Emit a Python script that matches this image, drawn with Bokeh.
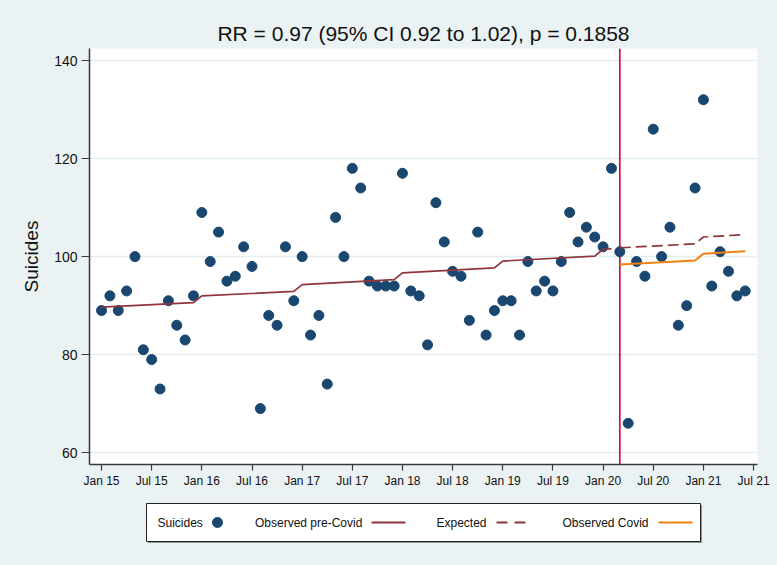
import numpy as np
from bokeh.plotting import figure
from bokeh.models import Range1d, FixedTicker, Span
from bokeh.layouts import column
from bokeh.embed import file_html
from bokeh.resources import INLINE
from bokeh.core.properties import value

# ---------------- data ----------------
title_text = "RR = 0.97 (95% CI 0.92 to 1.02), p = 0.1858"
y_label = "Suicides"
tick_positions = [0, 6, 12, 18, 24, 30, 36, 42, 48, 54, 60, 66, 72, 78]
tick_labels = ["Jan 15", "Jul 15", "Jan 16", "Jul 16", "Jan 17", "Jul 17", "Jan 18",
               "Jul 18", "Jan 19", "Jul 19", "Jan 20", "Jul 20", "Jan 21", "Jul 21"]
y_ticks = [60, 80, 100, 120, 140]

# month index: 0 = Jan 2015 ... 77 = Jun 2021
month = list(range(78))
suicides = [89, 92, 89, 93, 100, 81, 79, 73, 91, 86, 83, 92,
            109, 99, 105, 95, 96, 102, 98, 69, 88, 86, 102, 91,
            100, 84, 88, 74, 108, 100, 118, 114, 95, 94, 94, 94,
            117, 93, 92, 82, 111, 103, 97, 96, 87, 105, 84, 89,
            91, 91, 84, 99, 93, 95, 93, 99, 109, 103, 106, 104,
            102, 118, 101, 66, 99, 96, 126, 100, 106, 86, 90, 114,
            132, 94, 101, 97, 92, 93]

# fitted lines (vertices, month index)
pre_month = [0, 11, 12, 23, 24, 35, 36, 47, 48, 59, 60, 61]
pre_fit = [89.7, 90.6, 92.0, 92.9, 94.3, 95.3, 96.7, 97.7, 99.1, 100.1, 101.5, 101.6]
exp_month = [62, 71, 72, 77]
exp_fit = [101.8, 102.6, 104.0, 104.5]
cov_month = [62, 71, 72, 77]
cov_fit = [98.4, 99.2, 100.6, 101.1]
covid_start = 62

legend_labels = ["Suicides", "Observed pre-Covid", "Expected", "Observed Covid"]

# ---------------- style ----------------
BG = "#EAF2F3"
NAVY = "#1A476F"
MAROON = "#90353B"
ORANGE = "#F08214"
CRIMSON = "#C8143C"
AXIS = "#3A3A3A"
FONT = "Liberation Sans"

W = 777
p = figure(width=W, height=494, output_backend="svg", toolbar_location=None,
           x_range=Range1d(-1.44, 78.47), y_range=Range1d(57.6, 142.45),
           min_border_left=89, min_border_right=20, min_border_top=48, min_border_bottom=30,
           title=title_text, styles={"background-color": BG})
p.border_fill_color = BG
p.background_fill_color = "white"
p.outline_line_color = None

p.title.text_font = FONT
p.title.text_font_size = "21px"
p.title.text_font_style = "normal"
p.title.text_color = "#111111"
p.title.align = "center"
p.title.standoff = 7

# axes
p.xaxis.ticker = FixedTicker(ticks=tick_positions)
p.xaxis.major_label_overrides = {t: l for t, l in zip(tick_positions, tick_labels)}
p.yaxis.ticker = FixedTicker(ticks=y_ticks)
for ax in (p.xaxis, p.yaxis):
    ax.axis_line_color = AXIS
    ax.axis_line_width = 1.5
    ax.major_tick_line_color = AXIS
    ax.major_tick_line_width = 1.2
    ax.major_tick_in = 0
    ax.minor_tick_line_color = None
    ax.major_label_text_font = FONT
    ax.major_label_text_color = "#111111"
p.xaxis.major_tick_out = 6
p.xaxis.major_label_standoff = 3
p.xaxis.major_label_text_font_size = "12px"
p.yaxis.major_tick_out = 8
p.yaxis.major_label_standoff = 4
p.yaxis.major_label_text_font_size = "14px"
p.yaxis.axis_label = y_label
p.yaxis.axis_label_text_font = FONT
p.yaxis.axis_label_text_font_size = "19px"
p.yaxis.axis_label_text_font_style = "normal"
p.yaxis.axis_label_text_color = "#111111"
p.yaxis.axis_label_standoff = 9

p.xgrid.grid_line_color = None
p.ygrid.grid_line_color = "#E4EDF0"
p.ygrid.grid_line_width = 1.5

# vertical line at start of Covid
vline = Span(location=covid_start, dimension="height", line_color=CRIMSON,
             line_width=1.7, level="underlay")
p.add_layout(vline)

p.scatter(month, suicides, size=10, color=NAVY, line_color=NAVY)
p.line(pre_month, pre_fit, line_color=MAROON, line_width=1.7)
p.line(exp_month, exp_fit, line_color=MAROON, line_width=1.7, line_dash="11 5")
p.line(cov_month, cov_fit, line_color=ORANGE, line_width=2)

# ---------------- legend (separate panel, frame aligned with main frame) ----------------
LH = 565 - 494
lg = figure(width=W, height=LH, output_backend="svg", toolbar_location=None,
            x_range=Range1d(89, 757), y_range=Range1d(0, LH),
            min_border_left=89, min_border_right=20, min_border_top=0, min_border_bottom=0,
            styles={"background-color": BG})
lg.axis.visible = False
lg.grid.visible = False
lg.outline_line_color = None
lg.border_fill_color = BG
lg.background_fill_color = BG

# page y -> legend y : y = LH - (page_y - 494)
box_top, box_bot = LH - 9, LH - 47
lg.quad(left=[147.5], right=[701.5], top=[box_top - 1.5], bottom=[box_bot - 1.5],
        fill_color="#8E979A", line_color=None)
lg.quad(left=[146], right=[700], top=[box_top], bottom=[box_bot], fill_color="white",
        line_color="#222222", line_width=1)

cy = (box_top + box_bot) / 2
text_x = [157, 254.5, 436, 562]
lg.text(x=text_x, y=[cy] * 4, text=legend_labels, text_font=value(FONT),
        text_font_size="12px", text_baseline="middle", text_align="left",
        text_color="#111111")
lg.scatter([217], [cy], size=10, color=NAVY)
lg.line([371, 405], [cy, cy], line_color=MAROON, line_width=1.8)
lg.line([496, 526], [cy, cy], line_color=MAROON, line_width=1.8, line_dash="11 7")
lg.line([658, 692], [cy, cy], line_color=ORANGE, line_width=2)

layout = column(p, lg, spacing=0, styles={"background-color": BG})

html = file_html(layout, INLINE)
html = html.replace("</head>", "<style>html, body { background-color: %s; }</style></head>" % BG, 1)
open("out.html", "w").write(html)
